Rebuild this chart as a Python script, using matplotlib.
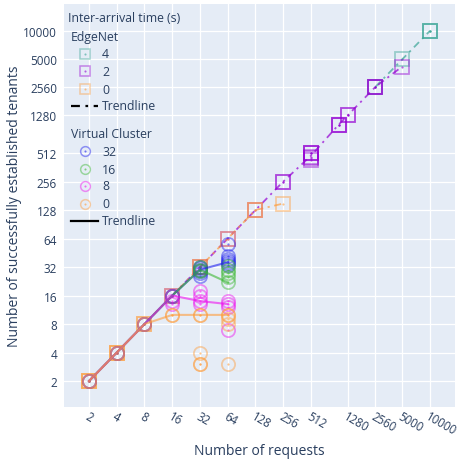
import matplotlib
matplotlib.use("Agg")
import matplotlib.pyplot as plt
import matplotlib.transforms as mtransforms
from matplotlib.lines import Line2D

# ---- axis ticks -------------------------------------------------------------
tick_values = [2, 4, 8, 16, 32, 64, 128, 256, 512, 1280, 2560, 5000, 10000]
tick_labels = ["2", "4", "8", "16", "32", "64", "128", "256", "512",
               "1280", "2560", "5000", "10000"]

# ---- EdgeNet runs (x = requests, y = established tenants) ------------------
edgenet_4_x = [2560, 5000, 10000, 10000, 10000]
edgenet_4_y = [2560, 5000, 10000, 10000, 10000]
edgenet_4_trend_x = [2560, 5000, 10000]
edgenet_4_trend_y = [2560, 5000, 10000]

edgenet_2_x = [16, 32, 64, 128, 256, 256,
               512, 512, 512, 512, 512, 512,
               1024, 1024, 1024, 1280, 1280,
               2560, 2560, 2560, 5000]
edgenet_2_y = [16, 32, 64, 128, 256, 256,
               512, 512, 512, 470, 450, 435,
               1024, 1024, 1024, 1280, 1280,
               2560, 2560, 2560, 4200]
edgenet_2_trend_x = [16, 32, 64, 128, 256, 512, 1024, 1280, 2560, 5000]
edgenet_2_trend_y = [16, 32, 64, 128, 256, 480, 1024, 1280, 2560, 4200]

edgenet_0_x = [2, 2, 2, 4, 4, 4, 8, 8, 16, 32, 32, 64, 128, 128, 256]
edgenet_0_y = [2, 2, 2, 4, 4, 4, 8, 8, 16, 32, 32, 64, 128, 128, 150]
edgenet_0_trend_x = [2, 4, 8, 16, 32, 64, 128, 256]
edgenet_0_trend_y = [2, 4, 8, 16, 32, 64, 128, 150]

# ---- Virtual Cluster runs ---------------------------------------------------
vc_32_x = [2, 4, 8, 16, 16, 32, 32, 32, 32, 32, 32, 64, 64, 64, 64, 64, 64]
vc_32_y = [2, 4, 8, 16, 16, 32, 31, 30, 29, 28, 26, 56, 42, 39, 37, 35, 34]
vc_32_trend_x = [2, 4, 8, 16, 32, 64]
vc_32_trend_y = [2, 4, 8, 16, 30, 36]

vc_16_x = [2, 4, 8, 16, 32, 32, 32, 64, 64, 64, 64, 64]
vc_16_y = [2, 4, 8, 16, 32, 30, 29, 33, 30, 28, 25, 22]
vc_16_trend_x = [2, 4, 8, 16, 32, 64]
vc_16_trend_y = [2, 4, 8, 16, 30, 22]

vc_8_x = [2, 4, 8, 16, 16, 16, 32, 32, 32, 32, 64, 64, 64, 64]
vc_8_y = [2, 4, 8, 16, 14, 13, 18, 16, 14, 13, 14, 13, 12, 7]
vc_8_trend_x = [2, 4, 8, 16, 32, 64]
vc_8_trend_y = [2, 4, 8, 16, 14, 13]

vc_0_x = [2, 4, 8, 16, 16, 32, 32, 32, 32, 32, 64, 64, 64, 64, 64]
vc_0_y = [2, 4, 8, 10, 10, 10, 10, 4, 3, 3, 10, 10, 9, 8, 3]
vc_0_trend_x = [2, 4, 8, 16, 32, 64]
vc_0_trend_y = [2, 4, 8, 10, 10, 10]

# ---- styling ----------------------------------------------------------------
W, H = 459, 464
BG = "#E5ECF6"
TEXT = "#2a3f5f"
TEAL = "#3AA596"
PURPLE = "#9400D3"
ORANGE = "#FF9D3C"
BLUE = "#1E1EEE"
GREEN = "#3CB832"
MAGENTA = "#EE10EE"
MARK_ALPHA = 0.45
DASHDOT = (0, (4, 2.5, 1.2, 2.5))

plt.rcParams["font.family"] = ["Open Sans", "DejaVu Sans"]

fig = plt.figure(figsize=(W / 100, H / 100), dpi=100)
AX_L, AX_R, AX_T, AX_B = 64, 455, 5, 408
ax = fig.add_axes([AX_L / W, 1 - AX_B / H, (AX_R - AX_L) / W, (AX_B - AX_T) / H])
ax.set_facecolor(BG)
for s in ax.spines.values():
    s.set_visible(False)

ax.set_xscale("log", base=2)
ax.set_yscale("log", base=2)
ax.set_xlim(2 ** 0.1, 2 ** 14.19)
ax.set_ylim(2 ** 0.09, 2 ** 14.23)
ax.minorticks_off()
ax.set_xticks(tick_values)
ax.set_xticklabels(tick_labels, rotation=-30, ha="left", va="center",
                   rotation_mode="anchor")
ax.set_yticks(tick_values)
ax.set_yticklabels(tick_labels)
ax.tick_params(axis="x", length=0, pad=6, labelsize=8.3, labelcolor=TEXT)
ax.tick_params(axis="y", length=0, pad=5, labelsize=8.5, labelcolor=TEXT)
ax.grid(True, color="white", linewidth=0.9)
ax.set_axisbelow(True)

# nudge the slanted x labels slightly left so they start at their tick
shift = mtransforms.ScaledTranslation(-3 / 100, 0, fig.dpi_scale_trans)
for lbl in ax.get_xticklabels():
    lbl.set_transform(lbl.get_transform() + shift)

ax.set_xlabel("Number of requests", fontsize=10, color=TEXT, va="center")
ax.xaxis.set_label_coords(((259 - AX_L) / (AX_R - AX_L)),
                          (AX_B - 452) / (AX_B - AX_T))
ax.set_ylabel("Number of successfully established tenants", fontsize=10,
              color=TEXT, va="center")
ax.yaxis.set_label_coords((15 - AX_L) / (AX_R - AX_L), 0.5)


def draw_points(x, y, color, marker):
    ax.plot(x, y, linestyle="none", marker=marker, markersize=9.5,
            markerfacecolor="none", markeredgecolor=color,
            markeredgewidth=1.3, alpha=MARK_ALPHA, zorder=3)
    ax.plot(x, y, linestyle="none", marker="o", markersize=1.6,
            markerfacecolor=color, markeredgewidth=0, alpha=0.6, zorder=3)


# EdgeNet: dash-dot trendlines and square markers
for tx, ty, c in [(edgenet_4_trend_x, edgenet_4_trend_y, TEAL),
                  (edgenet_2_trend_x, edgenet_2_trend_y, PURPLE),
                  (edgenet_0_trend_x, edgenet_0_trend_y, ORANGE)]:
    ax.plot(tx, ty, color=c, linestyle=DASHDOT, linewidth=1.3, alpha=0.7,
            zorder=2)
draw_points(edgenet_4_x, edgenet_4_y, TEAL, "s")
draw_points(edgenet_2_x, edgenet_2_y, PURPLE, "s")
draw_points(edgenet_0_x, edgenet_0_y, ORANGE, "s")

# Virtual Cluster: solid trendlines and circle markers
for tx, ty, c in [(vc_32_trend_x, vc_32_trend_y, BLUE),
                  (vc_16_trend_x, vc_16_trend_y, GREEN),
                  (vc_8_trend_x, vc_8_trend_y, MAGENTA),
                  (vc_0_trend_x, vc_0_trend_y, ORANGE)]:
    ax.plot(tx, ty, color=c, linestyle="-", linewidth=1.5, alpha=0.6,
            zorder=4)
draw_points(vc_32_x, vc_32_y, BLUE, "o")
draw_points(vc_16_x, vc_16_y, GREEN, "o")
draw_points(vc_8_x, vc_8_y, MAGENTA, "o")
draw_points(vc_0_x, vc_0_y, ORANGE, "o")


# ---- legend -------------------------------------------------------------------
def fxy(px, py):
    return px / W, 1 - py / H


def legend_text(px, py, s):
    fig.text(*fxy(px, py), s, ha="left", va="center", fontsize=8.8,
             color=TEXT)


def legend_marker(px, py, color, marker):
    x, y = fxy(px, py)
    fig.add_artist(Line2D([x], [y], transform=fig.transFigure,
                          linestyle="none", marker=marker, markersize=7,
                          markerfacecolor="none", markeredgecolor=color,
                          markeredgewidth=1.1, alpha=MARK_ALPHA))
    fig.add_artist(Line2D([x], [y], transform=fig.transFigure,
                          linestyle="none", marker="o", markersize=1.5,
                          markerfacecolor=color, markeredgewidth=0,
                          alpha=0.6))


def legend_line(px0, px1, py, ls):
    x0, y = fxy(px0, py)
    x1, _ = fxy(px1, py)
    fig.add_artist(Line2D([x0, x1], [y, y], transform=fig.transFigure,
                          color="black", linestyle=ls, linewidth=1.6))


legend_text(68, 19, "Inter-arrival time (s)")
legend_text(71, 38, "EdgeNet")
for py, lbl, c in [(55, "4", TEAL), (72, "2", PURPLE), (90, "0", ORANGE)]:
    legend_marker(85, py, c, "s")
    legend_text(102, py, lbl)
legend_line(71, 98, 107, DASHDOT)
legend_text(102, 107, "Trendline")

legend_text(71, 135, "Virtual Cluster")
for py, lbl, c in [(152, "32", BLUE), (170, "16", GREEN),
                   (187, "8", MAGENTA), (205, "0", ORANGE)]:
    legend_marker(85, py, c, "o")
    legend_text(102, py, lbl)
legend_line(71, 98, 222, "-")
legend_text(102, 222, "Trendline")

fig.savefig("out.png", dpi=100, facecolor="white")
